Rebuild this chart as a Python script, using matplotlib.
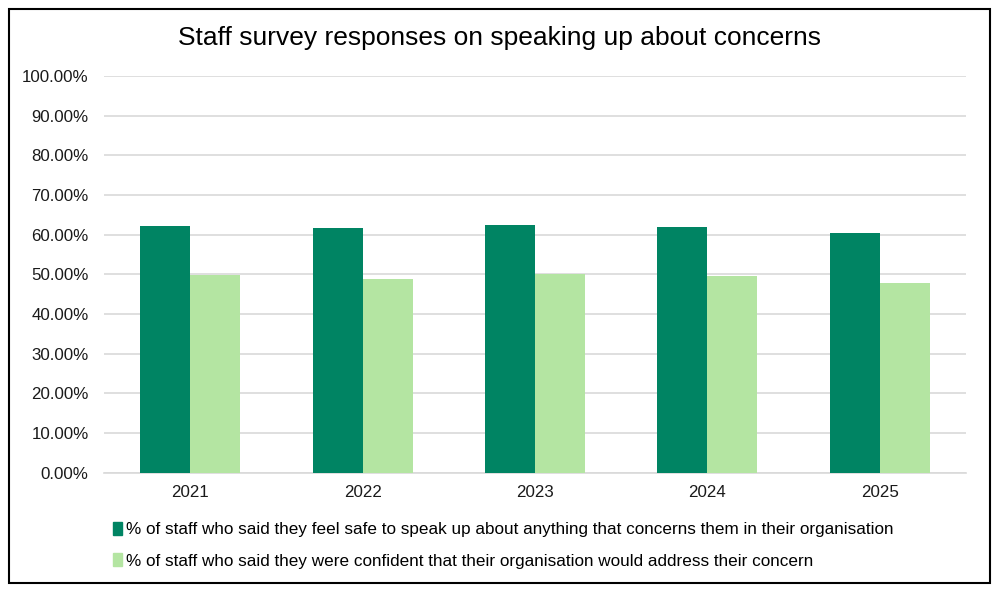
import matplotlib.pyplot as plt
import matplotlib.patches as mpatches
from matplotlib.ticker import FuncFormatter
import numpy as np

years = ["2021", "2022", "2023", "2024", "2025"]
feel_safe = [62.1, 61.6, 62.3, 61.8, 60.4]
confident = [49.9, 48.7, 50.1, 49.6, 47.7]
labels = [
    "% of staff who said they feel safe to speak up about anything that concerns them in their organisation",
    "% of staff who said they were confident that their organisation would address their concern",
]
colors = ["#008463", "#B4E5A2"]

plt.rcParams["font.family"] = ["Liberation Sans", "DejaVu Sans"]

fig = plt.figure(figsize=(10, 5.93), dpi=100)
ax = fig.add_axes([0.104, 0.203, 0.862, 0.669])

x = np.arange(len(years))
w = 0.29
ax.bar(x - w / 2, feel_safe, width=w, color=colors[0], zorder=3)
ax.bar(x + w / 2, confident, width=w, color=colors[1], zorder=3)

ax.set_xlim(-0.5, len(years) - 0.5)
ax.set_ylim(0, 100)
ax.set_yticks(np.arange(0, 101, 10))
ax.yaxis.set_major_formatter(FuncFormatter(lambda v, p: f"{v:.2f}%"))
ax.set_xticks(x)
ax.set_xticklabels(years)
ax.grid(axis="y", color="#D9D9D9", linewidth=1.2, zorder=0)
ax.tick_params(axis="y", length=0, labelsize=12.2, colors="#1a1a1a", pad=11)
ax.tick_params(axis="x", length=0, labelsize=12.2, colors="#1a1a1a", pad=9)
for s in ["top", "right", "left"]:
    ax.spines[s].set_visible(False)
ax.spines["bottom"].set_color("#D9D9D9")
ax.spines["bottom"].set_linewidth(1.2)

fig.text(0.5, 0.936, "Staff survey responses on speaking up about concerns",
         ha="center", va="center", fontsize=19)

handles = [mpatches.Patch(color=c, label=l) for c, l in zip(colors, labels)]
fig.legend(handles=handles, loc="upper left", bbox_to_anchor=(0.106, 0.132),
           frameon=False, fontsize=12.3, handlelength=0.55, handleheight=0.8,
           handletextpad=0.2, labelspacing=0.95, borderaxespad=0)

fig.patches.append(mpatches.Rectangle((0.009, 0.017), 0.981, 0.968, transform=fig.transFigure,
                                      fill=False, edgecolor="black", linewidth=1.5))

fig.savefig("out.png", dpi=100)
